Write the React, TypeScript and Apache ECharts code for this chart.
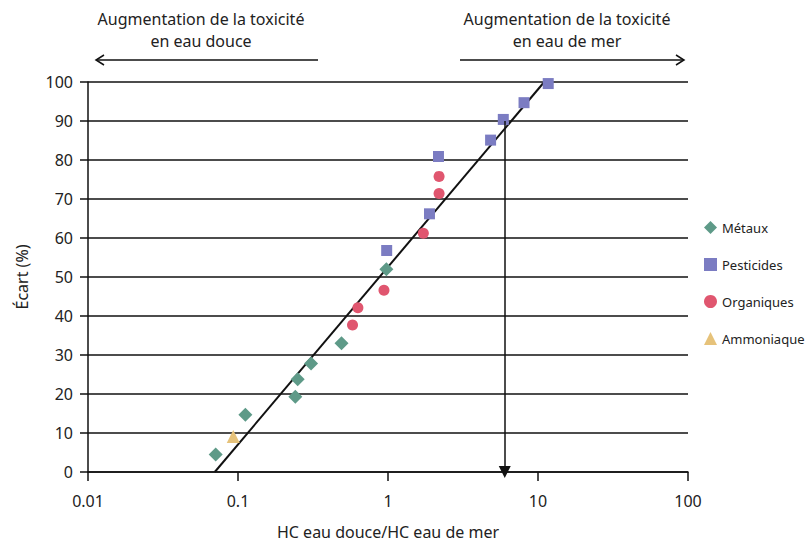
import React, { useEffect, useRef } from "react";
import * as echarts from "echarts";

const xTickLabels = ["0.01", "0.1", "1", "10", "100"];
const metaux: [number, number][] = [
  [0.071, 4.5], [0.112, 14.7], [0.241, 19.3], [0.25, 23.8], [0.307, 27.8], [0.49, 33], [0.975, 52],
];
const pesticides: [number, number][] = [
  [0.98, 56.8], [1.89, 66.2], [2.17, 80.9], [4.83, 85.1], [5.87, 90.4], [8.07, 94.7], [11.7, 99.6],
];
const organiques: [number, number][] = [
  [0.58, 37.7], [0.63, 42.1], [0.94, 46.6], [1.72, 61.2], [2.19, 71.4], [2.19, 75.8],
];
const ammoniaque: [number, number][] = [[0.093, 9.1]];
const regressionLine: [number, number][] = [[0.07, 0], [11, 100]];
const arrowX = 6;
const arrowTop = 90;

const FONT = "'Noto Sans', 'Open Sans', 'Liberation Sans', sans-serif";

export default function App() {
  const ref = useRef<HTMLDivElement>(null);
  useEffect(() => {
    if (!ref.current) return;
    const chart = echarts.init(ref.current, undefined, { renderer: "svg" });
    const markerStyle = (color: string) => ({ color, opacity: 1 });
    chart.setOption({
      animation: false,
      backgroundColor: "#ffffff",
      textStyle: { fontFamily: FONT },
      grid: { left: 88, right: 123, top: 82, bottom: 75 },
      legend: {
        orient: "vertical",
        left: 699,
        top: 216,
        itemGap: 24,
        itemWidth: 13,
        itemHeight: 13,
        textStyle: { fontFamily: FONT, fontSize: 13, color: "#222" },
        data: [
          { name: "Métaux", icon: "diamond" },
          { name: "Pesticides", icon: "rect" },
          { name: "Organiques", icon: "circle" },
          { name: "Ammoniaque", icon: "triangle" },
        ],
      },
      xAxis: {
        type: "log",
        logBase: 10,
        min: 0.01,
        max: 100,
        name: "HC eau douce/HC eau de mer",
        nameLocation: "middle",
        nameGap: 52,
        nameTextStyle: { fontFamily: FONT, fontSize: 16, color: "#222" },
        axisLine: { lineStyle: { color: "#111", width: 1.5 } },
        axisTick: { show: true, length: 9, lineStyle: { color: "#111", width: 1.5 } },
        minorTick: { show: false },
        splitLine: { show: false },
        axisLabel: {
          fontFamily: FONT,
          fontSize: 16,
          color: "#222",
          margin: 21,
          formatter: (v: number) => {
            const idx = Math.round(Math.log10(v)) + 2;
            return xTickLabels[idx] ?? String(v);
          },
        },
      },
      yAxis: {
        type: "value",
        min: 0,
        max: 100,
        interval: 10,
        name: "Écart (%)",
        nameLocation: "middle",
        nameGap: 58,
        nameRotate: 90,
        nameTextStyle: { fontFamily: FONT, fontSize: 16, color: "#222" },
        axisLine: { show: true, lineStyle: { color: "#111", width: 1.5 } },
        axisTick: { show: true, length: 8, lineStyle: { color: "#111", width: 1.5 } },
        splitLine: { show: true, lineStyle: { color: "#111", width: 1.5 } },
        axisLabel: { fontFamily: FONT, fontSize: 16, color: "#222", margin: 15 },
      },
      series: [
        {
          name: "regression",
          type: "line",
          data: regressionLine,
          symbol: "none",
          lineStyle: { color: "#111", width: 2 },
          z: 3,
          markLine: {
            silent: true,
            symbol: ["none", "triangle"],
            symbolSize: [12, 12],
            label: { show: false },
            lineStyle: { color: "#111", width: 1.5, type: "solid" },
            data: [[{ coord: [arrowX, arrowTop] }, { coord: [arrowX, 0] }]],
          },
        },
        {
          name: "Métaux",
          type: "scatter",
          symbol: "diamond",
          symbolSize: 14,
          data: metaux,
          itemStyle: markerStyle("#5e9a88"),
          z: 4,
        },
        {
          name: "Pesticides",
          type: "scatter",
          symbol: "rect",
          symbolSize: 11,
          data: pesticides,
          itemStyle: markerStyle("#7b7cc2"),
          z: 4,
        },
        {
          name: "Organiques",
          type: "scatter",
          symbol: "circle",
          symbolSize: 11,
          data: organiques,
          itemStyle: markerStyle("#e0566f"),
          z: 4,
        },
        {
          name: "Ammoniaque",
          type: "scatter",
          symbol: "triangle",
          symbolSize: 13,
          data: ammoniaque,
          itemStyle: markerStyle("#e6c27a"),
          z: 4,
        },
      ],
      graphic: [
        {
          type: "text",
          x: 201,
          y: 8,
          style: {
            text: "Augmentation de la toxicité\nen eau douce",
            fontFamily: FONT,
            fontSize: 16,
            fill: "#222",
            lineHeight: 22,
            align: "center",
          },
        },
        {
          type: "text",
          x: 567,
          y: 8,
          style: {
            text: "Augmentation de la toxicité\nen eau de mer",
            fontFamily: FONT,
            fontSize: 16,
            fill: "#222",
            lineHeight: 22,
            align: "center",
          },
        },
        { type: "line", shape: { x1: 96, y1: 60, x2: 318, y2: 60 }, style: { stroke: "#111", lineWidth: 1.5 } },
        { type: "polyline", shape: { points: [[104, 55], [96, 60], [104, 65]] }, style: { stroke: "#111", lineWidth: 1.5, fill: null } },
        { type: "line", shape: { x1: 460, y1: 60, x2: 684, y2: 60 }, style: { stroke: "#111", lineWidth: 1.5 } },
        { type: "polyline", shape: { points: [[676, 55], [684, 60], [676, 65]] }, style: { stroke: "#111", lineWidth: 1.5, fill: null } },
      ],
    });
    return () => chart.dispose();
  }, []);
  return <div ref={ref} style={{ width: 811, height: 547, position: "absolute", left: 0, top: 0 }} />;
}
